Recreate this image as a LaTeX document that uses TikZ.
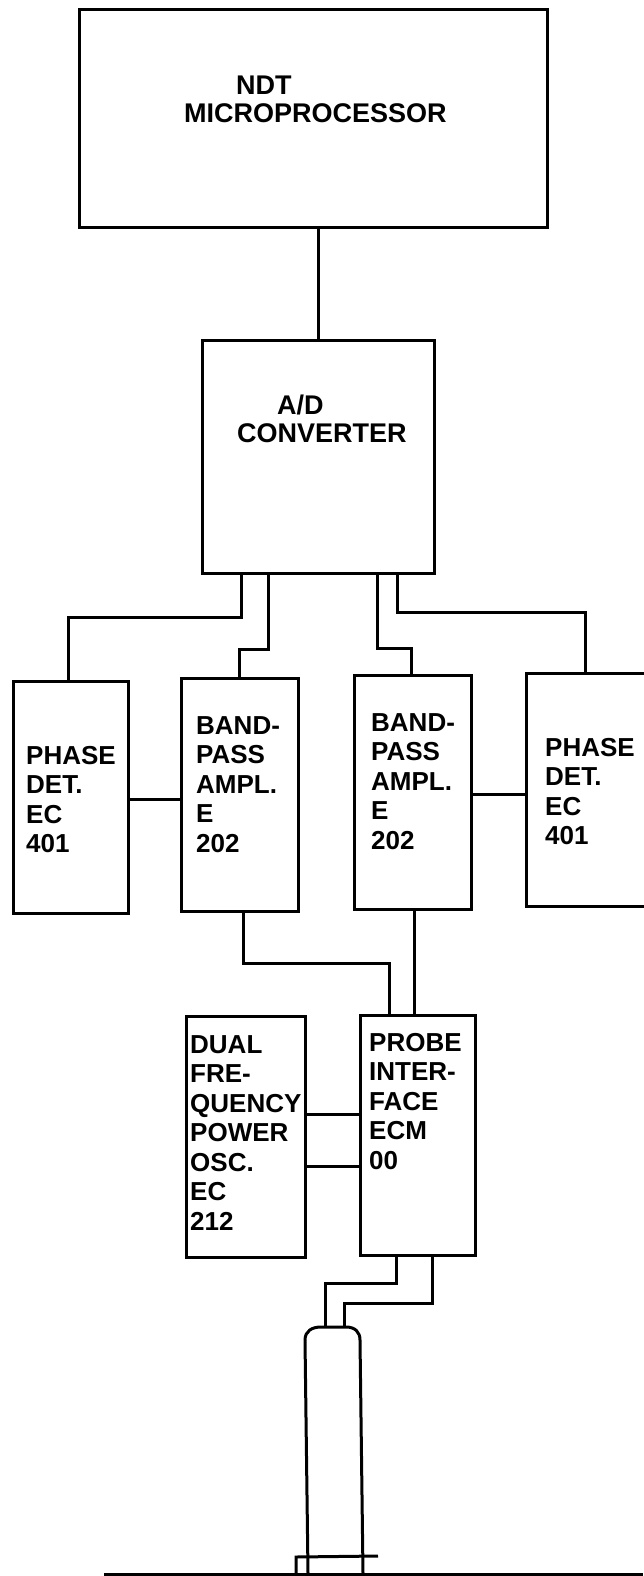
\documentclass[tikz,border=0pt]{standalone}
\usepackage{fontspec}
\setmainfont{Liberation Sans}
\usetikzlibrary{positioning}
\tikzset{
    blockbox/.style={draw, line width=3pt, rectangle},
    blocktext/.style={align=left, anchor=north west, font=\bfseries\fontsize{26}{29.5}\selectfont, inner sep=0pt},
    titletext/.style={align=left, anchor=north west, font=\bfseries\fontsize{27}{28}\selectfont, inner sep=0pt},
    wire/.style={line width=3pt}
}
\begin{document}
\begin{tikzpicture}[x=1pt, y=-1pt]
    \useasboundingbox (0,0) rectangle (643,1576);
    % Blocks
    \node[blockbox, minimum width=468pt, minimum height=217pt] (ndt) at (313,118.5) {};
    \node[blockbox, minimum width=232pt, minimum height=233pt] (adc) at (318,456.5) {};
    \node[blockbox, minimum width=115pt, minimum height=232pt] (phaseL) at (70.5,797) {};
    \node[blockbox, minimum width=117pt, minimum height=233pt] (bandL) at (240,795) {};
    \node[blockbox, minimum width=117pt, minimum height=234pt] (bandR) at (412.5,792) {};
    \node[blockbox, minimum width=122pt, minimum height=233pt] (phaseR) at (587,789.5) {};
    \node[blockbox, minimum width=119pt, minimum height=241pt] (osc) at (245.5,1136.5) {};
    \node[blockbox, minimum width=115pt, minimum height=240pt] (probe) at (417.5,1135) {};
    % Labels
    \node[titletext] (ndtlabel) at (184,76) {\hspace*{52pt}NDT\\MICROPROCESSOR};
    \node[titletext] (adclabel) at (237,395) {\hspace*{40pt}A/D\\CONVERTER};
    \node[blocktext] (phaseLlabel) at (26,746) {PHASE\\DET.\\EC\\401};
    \node[blocktext] (bandLlabel) at (196,716) {BAND-\\PASS\\AMPL.\\E\\202};
    \node[blocktext] (bandRlabel) at (371,713) {BAND-\\PASS\\AMPL.\\E\\202};
    \node[blocktext] (phaseRlabel) at (545,738) {PHASE\\DET.\\EC\\401};
    \node[blocktext] (osclabel) at (190,1035) {DUAL\\FRE-\\QUENCY\\POWER\\OSC.\\EC\\212};
    \node[blocktext] (probelabel) at (369,1033) {PROBE\\INTER-\\FACE\\ECM\\00};
    % Probe body
    \coordinate (probetop) at (333,1327);
    \draw[wire] (308,1573) -- (305,1340) .. controls (305,1331) and (312,1327) .. (321,1327) -- (346,1327) .. controls (355,1327) and (360,1332) .. (360,1340) -- (363,1573);
    \draw[wire] (104,1574) -- (643,1574);
    \draw[wire] (296,1574) -- (296,1557) -- (378,1556);
    % Connections
    \draw[wire] (ndt.south -| 318.5,0) -- (adc.north -| 318.5,0);
    \draw[wire] (adc.south -| 241,0) |- (68,617) -- (phaseL.north -| 68,0);
    \draw[wire] (adc.south -| 268,0) |- (239,649) -- (bandL.north -| 239,0);
    \draw[wire] (adc.south -| 377,0) |- (411,648) -- (bandR.north -| 411,0);
    \draw[wire] (adc.south -| 397,0) |- (585,612) -- (phaseR.north -| 585,0);
    \draw[wire] (phaseL.east |- 0,799) -- (bandL.west |- 0,799);
    \draw[wire] (bandR.east |- 0,794) -- (phaseR.west |- 0,794);
    \draw[wire] (bandL.south -| 243,0) |- (389,963) -- (probe.north -| 389,0);
    \draw[wire] (bandR.south -| 414,0) -- (probe.north -| 414,0);
    \draw[wire] (osc.east |- 0,1114) -- (probe.west |- 0,1114);
    \draw[wire] (osc.east |- 0,1166) -- (probe.west |- 0,1166);
    \draw[wire] (probe.south -| 396,0) |- (325,1283) -- (probetop -| 325,0);
    \draw[wire] (probe.south -| 432,0) |- (344,1303) -- (probetop -| 344,0);
\end{tikzpicture}
\end{document}
